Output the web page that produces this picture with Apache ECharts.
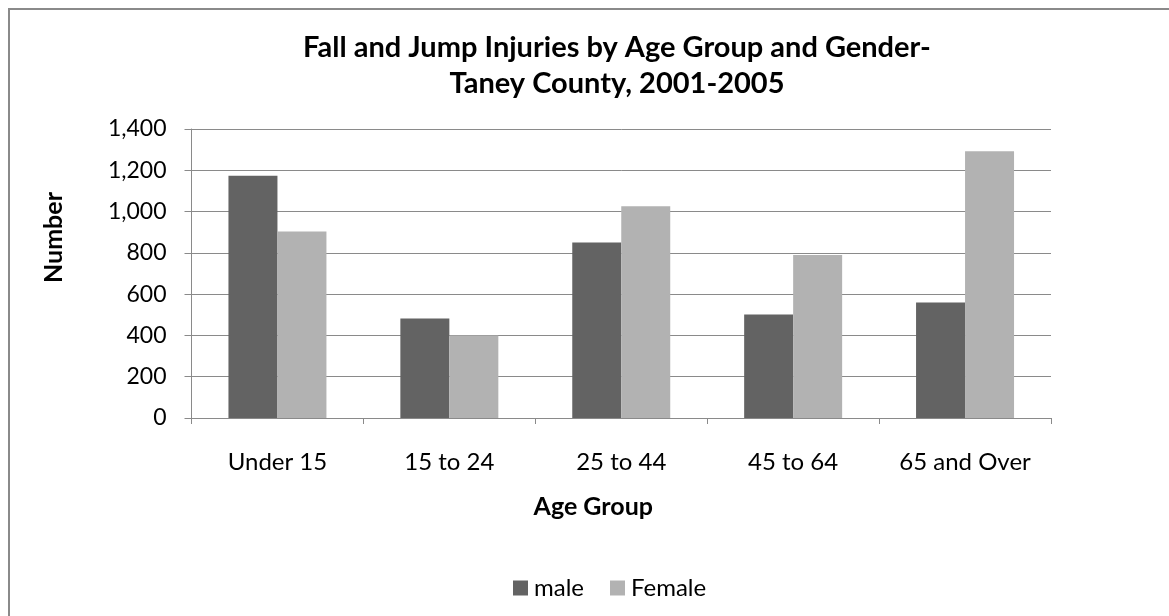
<!DOCTYPE html>
<html>
<head>
<meta charset="utf-8">
<script src="https://cdn.jsdelivr.net/npm/echarts@6/dist/echarts.min.js"></script>
<style>
html, body { margin: 0; padding: 0; background: #fff; }
#frame {
    position: absolute; left: 8px; top: 8px;
    width: 1300px; height: 800px;
    border: 2px solid #8a8a8a; box-sizing: border-box;
}
#main { position: absolute; left: 0; top: 0; width: 1169px; height: 616px; }
</style>
</head>
<body>
<div id="frame"></div>
<div id="main"></div>
<script>
var ageGroups = ['Under 15', '15 to 24', '25 to 44', '45 to 64', '65 and Over'];
var maleCounts = [1174, 482, 850, 501, 559];
var femaleCounts = [903, 400, 1026, 790, 1292];
var yTicks = [0, 200, 400, 600, 800, 1000, 1200, 1400];

var fontFamily = 'Lato';
var gridColor = '#8a8a8a';

var chart = echarts.init(document.getElementById('main'), null, { renderer: 'canvas' });

var option = {
    backgroundColor: 'transparent',
    animation: false,
    title: {
        text: 'Fall and Jump Injuries by Age Group and Gender-\nTaney County, 2001-2005',
        left: 612,
        textAlign: 'center',
        top: 25,
        textStyle: {
            fontFamily: fontFamily,
            fontWeight: 'bold',
            fontSize: 29,
            lineHeight: 36,
            color: '#000'
        }
    },
    legend: {
        data: ['male', 'Female'],
        left: 508,
        top: 571,
        itemWidth: 15,
        itemHeight: 15,
        itemGap: 26,
        icon: 'rect',
        textStyle: { fontFamily: fontFamily, fontSize: 24, color: '#000', padding: [0, 0, 0, 1] }
    },
    grid: { left: 191.5, right: 118, top: 129, bottom: 198 },
    xAxis: {
        type: 'category',
        data: ageGroups,
        name: 'Age Group',
        nameLocation: 'middle',
        nameGap: 76,
        nameTextStyle: {
            fontFamily: fontFamily, fontWeight: 'bold', fontSize: 25, color: '#000',
            padding: [0, 56, 0, 0]
        },
        axisLine: { lineStyle: { color: gridColor, width: 1 } },
        axisTick: { show: true, length: 6, lineStyle: { color: gridColor } },
        axisLabel: { fontFamily: fontFamily, fontSize: 24, color: '#000', margin: 32 }
    },
    yAxis: {
        type: 'value',
        min: yTicks[0],
        max: yTicks[yTicks.length - 1],
        interval: 200,
        name: 'Number',
        nameLocation: 'middle',
        nameGap: 125,
        nameTextStyle: {
            fontFamily: fontFamily, fontWeight: 'bold', fontSize: 25, color: '#000',
            padding: [0, 0, 0, 72]
        },
        axisLine: { show: true, lineStyle: { color: gridColor, width: 1 } },
        axisTick: { show: true, length: 7, lineStyle: { color: gridColor } },
        splitLine: { lineStyle: { color: gridColor, width: 1 } },
        axisLabel: {
            fontFamily: fontFamily, fontSize: 23, color: '#000', margin: 25,
            formatter: function(value) {
                return value.toString().replace(/\B(?=(\d{3})+(?!\d))/g, ',');
            }
        }
    },
    series: [{
        name: 'male',
        type: 'bar',
        data: maleCounts,
        barGap: '0%',
        barCategoryGap: '43%',
        itemStyle: { color: '#636363' }
    }, {
        name: 'Female',
        type: 'bar',
        data: femaleCounts,
        itemStyle: { color: '#b2b2b2' }
    }]
};

chart.setOption(option);
</script>
</body>
</html>
